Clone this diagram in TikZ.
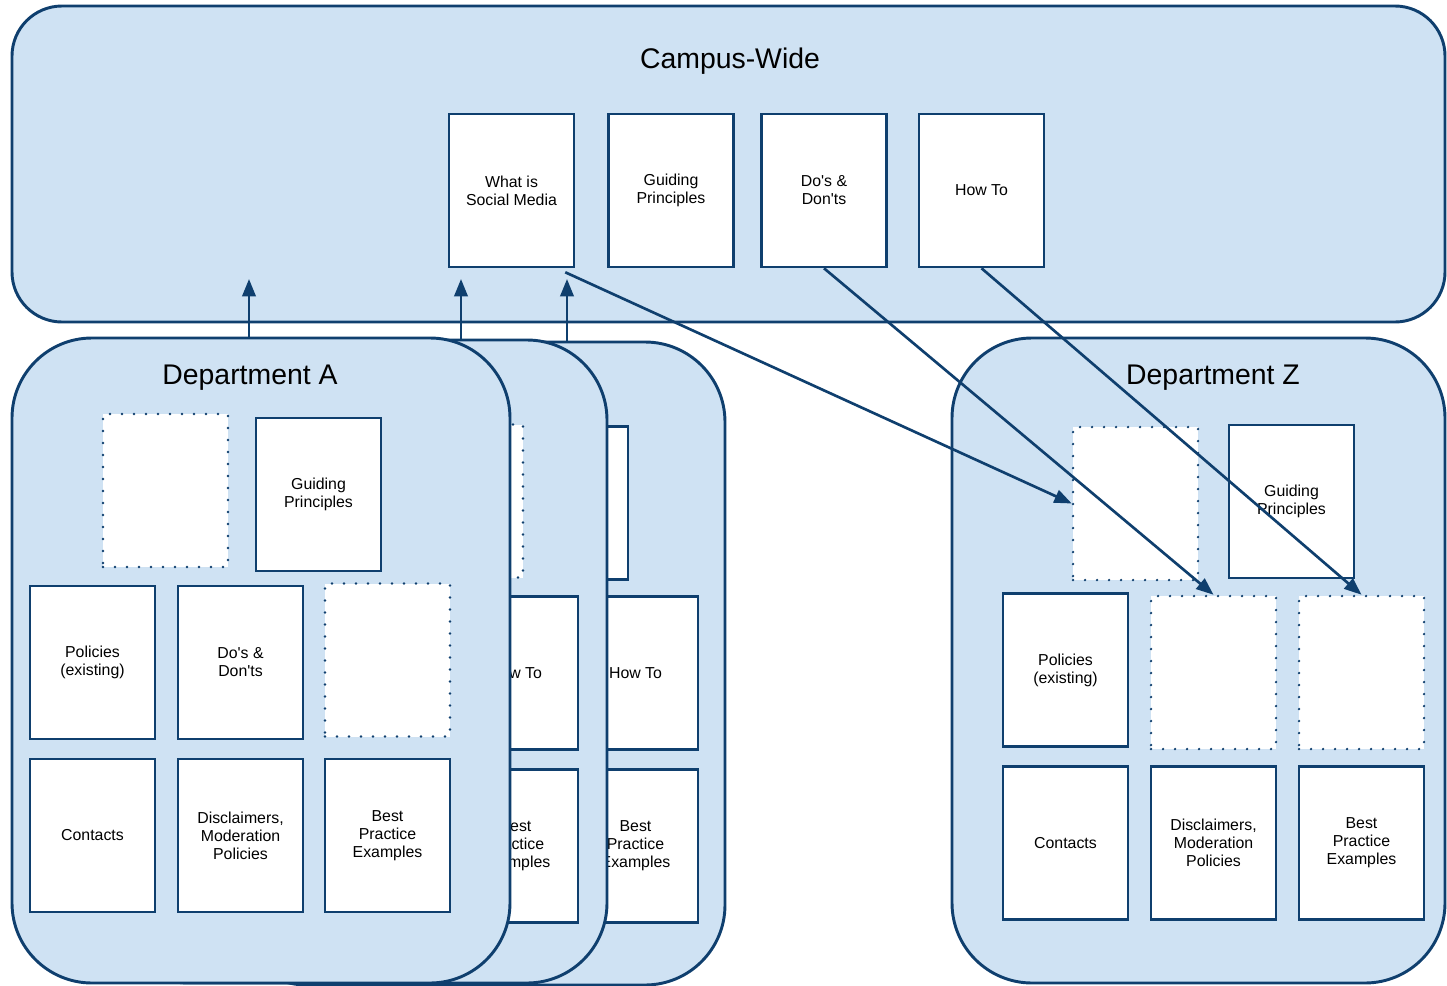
\documentclass[tikz,border=0pt]{standalone}
\usepackage{fontspec}
\setmainfont{Liberation Sans}
\usetikzlibrary{arrows.meta}
\definecolor{dblue}{HTML}{0F3F6E}
\definecolor{lblue}{HTML}{CFE2F3}
\begin{document}
\begin{tikzpicture}[x=0.75pt,y=-0.75pt,
 region/.style={draw=dblue, fill=lblue, line width=2.2pt, rounded corners=37.5pt, inner sep=0pt},
 dept/.style={region, rounded corners=60pt, minimum width=373.5pt, minimum height=483pt},
 box/.style={draw=dblue, fill=white, line width=1.9pt, minimum width=93.75pt, minimum height=114.75pt, inner sep=0pt, align=center, font=\fontsize{11.9}{13.5}\selectfont},
 hole/.style={box, dash pattern=on 0pt off 9pt, line cap=round},
 title/.style={font=\fontsize{21.3}{25}\selectfont},
 arr/.style={draw=dblue, line width=2pt, -{Triangle[length=13pt,width=10pt]}},
]
\useasboundingbox (0,0) rectangle (1447,986);

% Campus-wide region
\node[region, minimum width=1074.75pt, minimum height=237pt] (campus) at (728.5,164) {};
\node[title] (campustitle) at (730,61) {Campus-Wide};
\node[box] (wsm) at (511.5,190.5) {What is\\Social Media};
\node[box] (cgp) at (671,190.5) {Guiding\\Principles};
\node[box] (cdd) at (824,190.5) {Do\textquotesingle s \&\\Don\textquotesingle ts};
\node[box] (cht) at (981.5,190.5) {How To};

% back department
\node[dept, minimum height=482.25pt] (depB) at (476,663.5) {};
\node[box] (bgp) at (565.5,503) {};
\node[box] (bht) at (635.5,673) {How To};
\node[box] (bbp) at (635.5,846) {Best\\Practice\\Examples};

% middle department
\node[dept, minimum height=482.25pt] (depM) at (358,661.5) {};
\node[hole] (mh) at (460.5,501) {};
\node[box] (mht) at (515.5,673) {How To};
\node[box] (mbp) at (515.5,846) {Best\\Practice\\Examples};

% Department A
\node[dept, minimum height=483.75pt] (depA) at (261,660.5) {};
\node[title] (atitle) at (250,378) {Department A};
\node[hole] (ah1) at (165.5,490.5) {};
\node[box] (agp) at (318.5,494.5) {Guiding\\Principles};
\node[box] (apol) at (92.5,662.5) {Policies\\(existing)};
\node[box] (add) at (240.5,662.5) {Do\textquotesingle s \&\\Don\textquotesingle ts};
\node[hole] (ah2) at (387.5,660) {};
\node[box] (acon) at (92.5,835.5) {Contacts};
\node[box] (adis) at (240.5,835.5) {Disclaimers,\\Moderation\\Policies};
\node[box] (abp) at (387.5,835.5) {Best\\Practice\\Examples};

% Department Z
\node[dept, minimum width=369.75pt, minimum height=483.75pt] (depZ) at (1198.5,660.5) {};
\node[title] (ztitle) at (1213,378) {Department Z};
\node[hole] (zh1) at (1135.5,503.5) {};
\node[box] (zgp) at (1291.5,501.5) {Guiding\\Principles};
\node[box] (zpol) at (1065.5,670) {Policies\\(existing)};
\node[hole] (zh2) at (1213.5,672.5) {};
\node[hole] (zh3) at (1361.5,672.5) {};
\node[box] (zcon) at (1065.5,843) {Contacts};
\node[box] (zdis) at (1213.5,843) {Disclaimers,\\Moderation\\Policies};
\node[box] (zbp) at (1361.5,843) {Best\\Practice\\Examples};

% upward arrows
\coordinate (upA) at (249,279);
\coordinate (upM) at (461,279);
\coordinate (upB) at (567,279);
\draw[arr] (depA.north -| upA) -- (upA);
\draw[arr] (depM.north -| upM) -- (upM);
\draw[arr] (depB.north -| upB) -- (upB);

% campus to department Z arrows
\draw[arr] ([xshift=-7.5pt,yshift=-3pt]wsm.south east) -- (zh1.west);
\draw[arr] (cdd.south) -- (zh2.north);
\draw[arr] (cht.south) -- (zh3.north);
\end{tikzpicture}
\end{document}
